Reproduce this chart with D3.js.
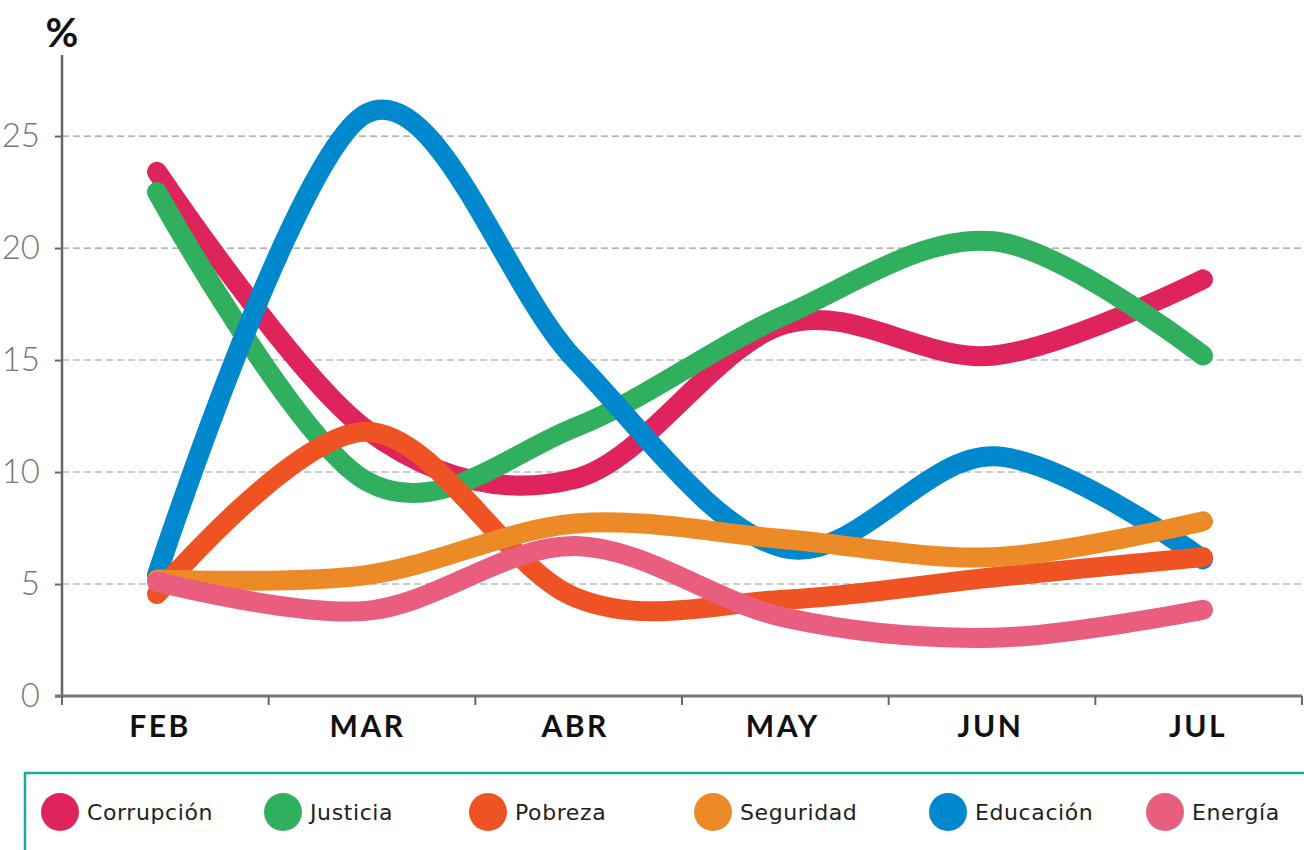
<!DOCTYPE html>
<html>
<head>
<meta charset="utf-8">
<script src="https://cdn.jsdelivr.net/npm/d3@7"></script>
<style>
  body { margin: 0; background: #fff; }
  svg { display: block; }
</style>
</head>
<body>
<script>
  var months = ["FEB", "MAR", "ABR", "MAY", "JUN", "JUL"];
  var yTicks = [0, 5, 10, 15, 20, 25];

  var corrupcion = [23.4, 11.9, 9.7, 16.6, 15.2, 18.6];
  var justicia   = [22.5, 9.6, 12.0, 17.0, 20.3, 15.2];
  var pobreza    = [4.55, 11.8, 4.4, 4.3, 5.3, 6.2];
  var seguridad  = [5.2, 5.4, 7.7, 7.0, 6.2, 7.8];
  var educacion  = [5.4, 26.0, 15.0, 6.6, 10.7, 6.1];
  var energia    = [5.1, 3.8, 6.7, 3.5, 2.6, 3.85];

  var seriesNames  = ["Corrupción", "Justicia", "Pobreza", "Seguridad", "Educación", "Energía"];
  var seriesColors = ["#df245d", "#30b05e", "#f05323", "#ec8a28", "#0088cf", "#e95d7f"];
  var seriesValues = [corrupcion, justicia, pobreza, seguridad, educacion, energia];
  // drawing order, bottom to top
  var drawOrder = ["Corrupción", "Justicia", "Educación", "Pobreza", "Seguridad", "Energía"];

  var W = 1304, H = 850;
  var svg = d3.select("body").append("svg").attr("width", W).attr("height", H);

  var y = d3.scaleLinear().domain([0, 28.6]).range([696, 55.4]);
  var xLine = d3.scalePoint().domain(months).range([157, 1203]);
  var xLabel = d3.scalePoint().domain(months).range([160, 1198]);
  var xBand = d3.scaleBand().domain(months).range([62, 1302]);

  // gridlines
  svg.append("g").selectAll("line")
    .data(yTicks.filter(function(d) { return d > 0; }))
    .enter().append("line")
      .attr("x1", 62).attr("x2", W)
      .attr("y1", function(d) { return y(d); })
      .attr("y2", function(d) { return y(d); })
      .attr("stroke", "#9a9a9a")
      .attr("stroke-width", 1.2)
      .attr("stroke-dasharray", "7,4");

  // y axis
  var yAxis = d3.axisLeft(y).tickValues(yTicks).tickSize(7).tickPadding(15);
  var gy = svg.append("g").attr("transform", "translate(62,0)").call(yAxis);
  gy.select(".domain").remove();
  gy.selectAll(".tick line").attr("stroke", "#666").attr("stroke-width", 2);
  gy.selectAll(".tick text")
    .attr("fill", "#777")
    .style("font-family", "Lato, 'DejaVu Sans', sans-serif")
    .style("font-weight", 300)
    .style("font-size", "33px");
  svg.append("line")
    .attr("x1", 62).attr("x2", 62)
    .attr("y1", 55).attr("y2", 697)
    .attr("stroke", "#666").attr("stroke-width", 2.5);

  svg.append("text")
    .attr("x", 62).attr("y", 47)
    .attr("text-anchor", "middle")
    .style("font-family", "Lato, 'DejaVu Sans', sans-serif")
    .style("font-weight", 700)
    .style("font-size", "40px")
    .attr("fill", "#111")
    .text("%");

  // x axis
  svg.append("line")
    .attr("x1", 55).attr("x2", 1302)
    .attr("y1", 696).attr("y2", 696)
    .attr("stroke", "#777").attr("stroke-width", 3);
  var bounds = months.map(function(m) { return xBand(m); }).concat([xBand.range()[1]]);
  svg.append("g").selectAll("line")
    .data(bounds)
    .enter().append("line")
      .attr("x1", function(d) { return d; })
      .attr("x2", function(d) { return d; })
      .attr("y1", 696).attr("y2", 705)
      .attr("stroke", "#666").attr("stroke-width", 2);

  svg.append("g").selectAll("text")
    .data(months)
    .enter().append("text")
      .attr("x", function(d) { return xLabel(d); })
      .attr("y", 737)
      .attr("text-anchor", "middle")
      .style("font-family", "Lato, 'DejaVu Sans', sans-serif")
      .style("font-weight", 700)
      .style("font-size", "30px")
      .style("letter-spacing", "2.5px")
      .attr("fill", "#111")
      .text(function(d) { return d; });

  // lines
  var line = d3.line()
    .x(function(d, i) { return xLine(months[i]); })
    .y(function(d) { return y(d); })
    .curve(d3.curveCardinal.tension(0));

  drawOrder.forEach(function(name) {
    var k = seriesNames.indexOf(name);
    svg.append("path")
      .datum(seriesValues[k])
      .attr("d", line)
      .attr("fill", "none")
      .attr("stroke", seriesColors[k])
      .attr("stroke-width", 20)
      .attr("stroke-linecap", "round")
      .attr("stroke-linejoin", "round");
  });

  // legend
  svg.append("path")
    .attr("d", "M25," + (H + 2) + " L25,773 L" + (W + 2) + ",773")
    .attr("fill", "none")
    .attr("stroke", "#1aab9b")
    .attr("stroke-width", 2.5);

  var legendX = [60, 283, 488, 713, 948, 1165];
  var lg = svg.append("g").selectAll("g")
    .data(seriesNames)
    .enter().append("g")
      .attr("transform", function(d, i) { return "translate(" + legendX[i] + ",812)"; });
  lg.append("ellipse")
    .attr("rx", 19).attr("ry", 19)
    .attr("fill", function(d, i) { return seriesColors[i]; });
  lg.append("text")
    .attr("x", 27).attr("y", 8)
    .style("font-family", "'DejaVu Sans', sans-serif")
    .style("font-size", "22px")
    .style("letter-spacing", "0.6px")
    .attr("fill", "#222")
    .text(function(d) { return d; });
</script>
</body>
</html>
